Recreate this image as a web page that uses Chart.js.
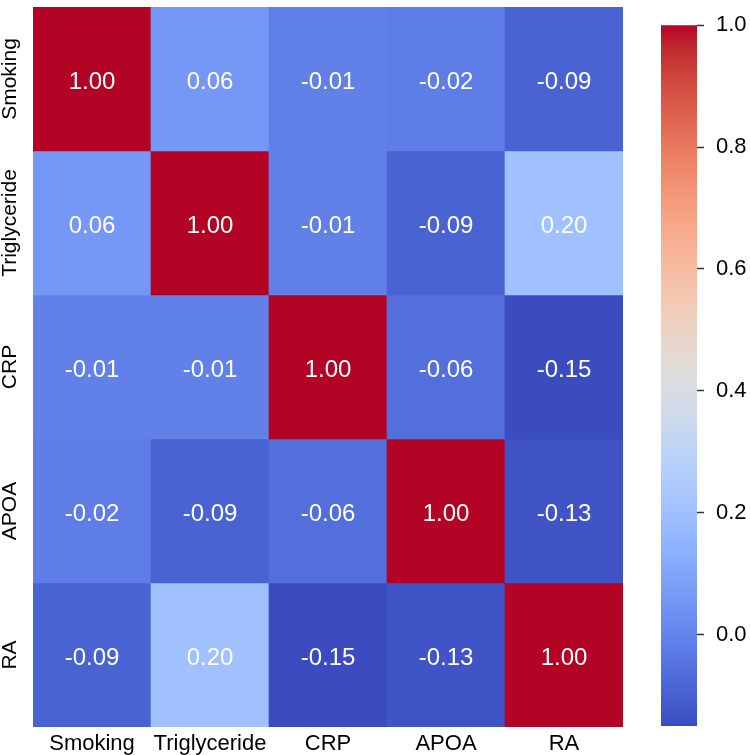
<!DOCTYPE html>
<html><head><meta charset="utf-8">
<script src="https://cdn.jsdelivr.net/npm/chart.js@4.4.0/dist/chart.umd.min.js"></script>
<style>
html,body{margin:0;padding:0;background:#fff;}
#wrap{position:relative;width:750px;height:755px;overflow:hidden;}
#heat{position:absolute;left:0;top:0;}
#cbar{position:absolute;left:640px;top:0;}
</style></head><body>
<div id="wrap">
<canvas id="heat" width="640" height="755"></canvas>
<canvas id="cbar" width="110" height="755"></canvas>
</div>
<script>
const categories = ['Smoking', 'Triglyceride', 'CRP', 'APOA', 'RA'];
const smoking      = [1.00, 0.06, -0.01, -0.02, -0.09];
const triglyceride = [0.06, 1.00, -0.01, -0.09, 0.20];
const crp          = [-0.01, -0.01, 1.00, -0.06, -0.15];
const apoa         = [-0.02, -0.09, -0.06, 1.00, -0.13];
const ra           = [-0.09, 0.20, -0.15, -0.13, 1.00];
const colorbarTicks = [0.0, 0.2, 0.4, 0.6, 0.8, 1.0];

const matrix = [smoking, triglyceride, crp, apoa, ra];
const allVals = matrix.flat();
const vmin = Math.min(...allVals);
const vmax = Math.max(...allVals);

const FONT = "'Liberation Sans', Arial, sans-serif";
Chart.defaults.font.family = FONT;

// coolwarm colormap (style)
const coolwarm = [
  [59,76,192],[68,90,204],[77,104,215],[87,117,225],[98,130,234],[108,142,241],
  [119,154,247],[130,165,251],[141,176,254],[152,185,255],[163,194,255],[174,201,253],
  [184,208,249],[194,213,244],[204,217,238],[213,219,230],[221,221,221],[229,216,209],
  [236,211,197],[241,204,185],[245,196,173],[247,187,160],[247,177,148],[247,166,135],
  [244,154,123],[241,141,111],[236,127,99],[229,112,88],[222,96,77],[213,80,66],
  [203,62,56],[192,40,47],[180,4,38]
];
function cmap(t) {
  t = Math.max(0, Math.min(1, t));
  const n = coolwarm.length - 1;
  const p = t * n, i = Math.min(n - 1, Math.floor(p)), f = p - i;
  const a = coolwarm[i], b = coolwarm[i + 1];
  const c = a.map((v, k) => Math.round(v + (b[k] - v) * f));
  return `rgb(${c[0]},${c[1]},${c[2]})`;
}
function colorFor(v) { return cmap((v - vmin) / (vmax - vmin)); }

const cellLabels = {
  id: 'cellLabels',
  afterDatasetsDraw(chart) {
    const ctx = chart.ctx;
    ctx.save();
    ctx.font = `24px ${FONT}`;
    ctx.fillStyle = '#ffffff';
    ctx.textAlign = 'center';
    ctx.textBaseline = 'middle';
    chart.data.datasets.forEach((ds, r) => {
      chart.getDatasetMeta(r).data.forEach((bar, j) => {
        const p = bar.getCenterPoint();
        ctx.fillText(matrix[r][j].toFixed(2), p.x, p.y + 3);
      });
    });
    ctx.restore();
  }
};

const rowLabels = {
  id: 'rowLabels',
  afterDraw(chart) {
    const ctx = chart.ctx, ys = chart.scales.y;
    ctx.save();
    ctx.font = `21px ${FONT}`;
    ctx.fillStyle = '#000';
    ctx.textAlign = 'center';
    ctx.textBaseline = 'alphabetic';
    categories.forEach((c, i) => {
      const py = ys.getPixelForValue(i + 0.5);
      ctx.save();
      ctx.translate(16, py);
      ctx.rotate(-Math.PI / 2);
      ctx.fillText(c, 0, 0);
      ctx.restore();
    });
    ctx.restore();
  }
};

new Chart(document.getElementById('heat'), {
  type: 'bar',
  data: {
    labels: categories,
    datasets: matrix.map((row, r) => ({
      label: categories[r],
      data: row.map(() => [r, r + 1]),
      backgroundColor: row.map(colorFor),
      borderWidth: 0,
      borderSkipped: false,
      barPercentage: 1,
      categoryPercentage: 1,
      grouped: false
    }))
  },
  options: {
    responsive: false,
    animation: false,
    devicePixelRatio: 1,
    layout: { padding: { left: 33, top: 7, right: 17, bottom: 0 } },
    plugins: { legend: { display: false }, tooltip: { enabled: false } },
    scales: {
      x: {
        grid: { display: false, drawTicks: false },
        border: { display: false },
        ticks: { color: '#000', font: { size: 22 }, padding: 4, maxRotation: 0, minRotation: 0, autoSkip: false },
        afterFit: s => { s.height = 28; }
      },
      y: { display: false, min: 0, max: categories.length, reverse: true }
    }
  },
  plugins: [cellLabels, rowLabels]
});

new Chart(document.getElementById('cbar'), {
  type: 'bar',
  data: {
    labels: [''],
    datasets: [{
      data: [[vmin, vmax]],
      backgroundColor: c => {
        const a = c.chart.chartArea;
        if (!a) return 'rgba(0,0,0,0)';
        const g = c.chart.ctx.createLinearGradient(0, a.bottom, 0, a.top);
        coolwarm.forEach((col, i) => g.addColorStop(i / (coolwarm.length - 1), `rgb(${col[0]},${col[1]},${col[2]})`));
        return g;
      },
      borderWidth: 0,
      borderSkipped: false,
      barPercentage: 1,
      categoryPercentage: 1
    }]
  },
  options: {
    responsive: false,
    animation: false,
    devicePixelRatio: 1,
    layout: { padding: { left: 21, top: 7, right: 0, bottom: 29 } },
    plugins: { legend: { display: false }, tooltip: { enabled: false } },
    scales: {
      x: { display: false },
      y: {
        position: 'right',
        min: vmin, max: vmax,
        afterBuildTicks: s => { s.ticks = colorbarTicks.map(v => ({ value: v })); },
        ticks: { callback: v => Number(v).toFixed(1), color: '#000', font: { size: 22 }, padding: 12, autoSkip: false },
        grid: { drawOnChartArea: false, drawTicks: true, tickLength: 7, tickColor: '#333', tickWidth: 1.5 },
        border: { display: false },
        afterFit: s => { s.width = 53; }
      }
    }
  }
});
</script>
</body></html>
